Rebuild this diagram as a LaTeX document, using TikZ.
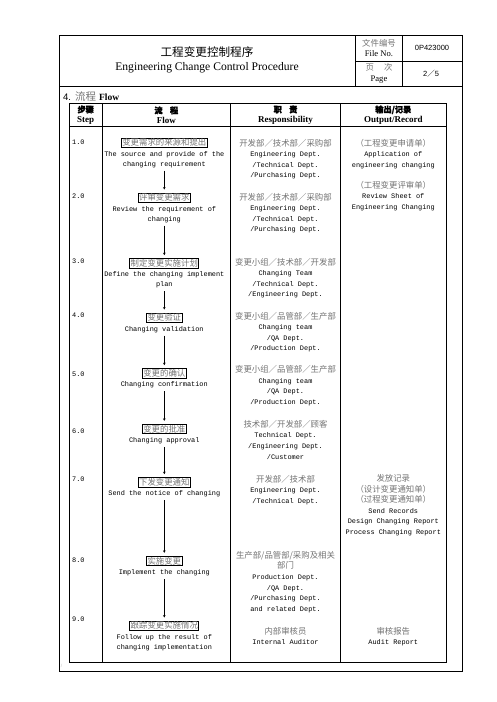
\documentclass[tikz,border=0pt]{standalone}
\usepackage{fontspec}
\setmainfont{Liberation Serif}
\setsansfont{Liberation Sans}
\setmonofont{Liberation Mono}
\newfontfamily\cjk{Noto Sans CJK SC}
\newfontfamily\cjkbold[FakeBold=2]{Noto Sans CJK SC}
\usepackage{tikz}
\usetikzlibrary{arrows.meta,positioning}
\usepackage{xcolor}
\definecolor{zhgray}{RGB}{115,115,115}
\newcommand{\zh}[1]{{\cjk\fontsize{8.4}{10.6}\selectfont\color{zhgray}#1}}
\tikzstyle{arrow} = [line width=0.9pt,-{Stealth[length=2.5pt,width=2.6pt]},shorten <=3pt,shorten >=3pt]
\tikzstyle{flowbox} = [rectangle, draw, line width=0.7pt, inner sep=0.9pt, font=\cjk\fontsize{8.4}{10}\selectfont, text=zhgray]
\tikzstyle{flowtext} = [align=center, inner sep=0pt, font=\ttfamily\fontsize{6.9}{10}\selectfont]
\tikzstyle{cell} = [align=center, inner sep=0pt, anchor=north, font=\ttfamily\fontsize{6.9}{10.6}\selectfont]
\tikzstyle{steplabel} = [anchor=west, inner sep=0pt, font=\ttfamily\fontsize{6.9}{8}\selectfont]
\tikzstyle{headcell} = [align=center, inner sep=0pt, font=\bfseries\fontsize{9}{10}\selectfont]
\begin{document}
\begin{tikzpicture}[x=1pt,y=-1pt]
\useasboundingbox (0,0) rectangle (496,702);
% Frame and title block
\draw[line width=1pt] (59,35) rectangle (462,671);
\draw[line width=0.9pt] (59,86) -- (462,86);
\draw[line width=0.9pt] (355.7,35) -- (355.7,86);
\draw[line width=0.9pt] (402.3,35) -- (402.3,86);
\draw[line width=0.9pt] (355.7,61.7) -- (462,61.7);
\node (title) [align=center, inner sep=0pt, font=\fontsize{11.6}{14.6}\selectfont] at (207,60) {{\cjk\fontsize{11.6}{14.6}\selectfont 工程变更控制程序}\\Engineering Change Control Procedure};
\node (fileno) [align=center, inner sep=0pt, font=\fontsize{8.6}{9.7}\selectfont] at (379,48) {{\cjk\fontsize{8.4}{9.7}\selectfont\color{zhgray}文件编号}\\File No.};
\node (page) [align=center, inner sep=0pt, font=\fontsize{8.6}{11}\selectfont] at (379,73.5) {{\cjk\fontsize{8.4}{11}\selectfont\color{zhgray}页\hspace{1.2em}次}\\Page};
\node (docno) [font=\sffamily\fontsize{7.5}{8}\selectfont] at (432,48) {0P423000};
\node (pageno) [font=\sffamily\fontsize{7.5}{8}\selectfont] at (431,73.5) {2{\cjk ／}5};
\node (section) [anchor=west, inner sep=0pt, font=\fontsize{9.5}{10}\selectfont] at (63,96) {{\sffamily 4.}\hspace{4pt}{\cjk\fontsize{10.5}{11}\selectfont\color{zhgray}流程}\hspace{3pt}\textbf{Flow}};

% Flow table
\draw[line width=0.8pt] (69,103.3) rectangle (446,662);
\draw[line width=0.8pt] (69,126) -- (446,126);
\draw[line width=0.8pt] (102.3,103.3) -- (102.3,662);
\draw[line width=0.8pt] (230.3,103.3) -- (230.3,662);
\draw[line width=0.8pt] (340.7,103.3) -- (340.7,662);
\node (hstep) [headcell] at (85.7,115) {{\cjkbold\fontsize{8.2}{10}\selectfont 步骤}\\Step};
\node (hflow) [headcell] at (166.3,115) {{\cjkbold\fontsize{8.2}{10}\selectfont 流\hspace{0.9em}程}\\Flow};
\node (hresp) [headcell] at (285.5,115) {{\cjkbold\fontsize{8.2}{10}\selectfont 职\hspace{0.9em}责}\\Responsibility};
\node (hrec) [headcell] at (393.3,115) {{\cjkbold\fontsize{8.2}{10}\selectfont 输出/记录}\\Output/Record};

% Step numbers
\node (s1) [steplabel] at (72,142.7) {1.0};
\node (s2) [steplabel] at (72,196.7) {2.0};
\node (s3) [steplabel] at (72,261.7) {3.0};
\node (s4) [steplabel] at (72,315) {4.0};
\node (s5) [steplabel] at (72,374.3) {5.0};
\node (s6) [steplabel] at (72,431.7) {6.0};
\node (s7) [steplabel] at (72,479.3) {7.0};
\node (s8) [steplabel] at (72,560.7) {8.0};
\node (s9) [steplabel] at (72,619) {9.0};

% Flow boxes
\node (source) [flowbox] at (164.3,142.7) {变更需求的来源和提出};
\node (source-en) [flowtext, below=3pt of source] {The source and provide of the\\changing requirement};
\node (review) [flowbox] at (164.3,197.7) {评审变更需求};
\node (review-en) [flowtext, below=3pt of review] {Review the requirement of\\changing};
\node (plan) [flowbox] at (164.3,263.3) {制定变更实施计划};
\node (plan-en) [flowtext, below=3pt of plan] {Define the changing implement\\plan};
\node (valid) [flowbox] at (164.3,317.7) {变更验证};
\node (valid-en) [flowtext, below=3pt of valid] {Changing validation};
\node (confirm) [flowbox] at (164.3,373.3) {变更的确认};
\node (confirm-en) [flowtext, below=3pt of confirm] {Changing confirmation};
\node (approve) [flowbox] at (164.3,429) {变更的批准};
\node (approve-en) [flowtext, below=3pt of approve] {Changing approval};
\node (notice) [flowbox] at (164.3,482.3) {下发变更通知};
\node (notice-en) [flowtext, below=3pt of notice] {Send the notice of changing};
\node (impl) [flowbox] at (164.3,561) {实施变更};
\node (impl-en) [flowtext, below=3pt of impl] {Implement the changing};
\node (follow) [flowbox] at (164.3,625.7) {跟踪变更实施情况};
\node (follow-en) [flowtext, below=3pt of follow] {Follow up the result of\\changing implementation};

\draw[arrow] (source-en) -- (review);
\draw[arrow] (review-en) -- (plan);
\draw[arrow] (plan-en) -- (valid);
\draw[arrow] (valid-en) -- (confirm);
\draw[arrow] (confirm-en) -- (approve);
\draw[arrow] (approve-en) -- (notice);
\draw[arrow] (notice-en) -- (impl);
\draw[arrow] (impl-en) -- (follow);

% Responsibility
\node (r1) [cell] at (285.5,138.7) {\zh{开发部／技术部／采购部}\\Engineering Dept.\\/Technical Dept.\\/Purchasing Dept.};
\node (r2) [cell] at (285.5,192.7) {\zh{开发部／技术部／采购部}\\Engineering Dept.\\/Technical Dept.\\/Purchasing Dept.};
\node (r3) [cell] at (285.5,257.7) {\zh{变更小组／技术部／开发部}\\Changing Team\\/Technical Dept.\\/Engineering Dept.};
\node (r4) [cell] at (285.5,311.7) {\zh{变更小组／品管部／生产部}\\Changing team\\/QA Dept.\\/Production Dept.};
\node (r5) [cell] at (285.5,365.3) {\zh{变更小组／品管部／生产部}\\Changing team\\/QA Dept.\\/Production Dept.};
\node (r6) [cell] at (285.5,420) {\zh{技术部／开发部／顾客}\\Technical Dept.\\/Engineering Dept.\\/Customer};
\node (r7) [cell] at (285.5,475) {\zh{开发部／技术部}\\Engineering Dept.\\/Technical Dept.};
\node (r8) [cell] at (285.5,551) {\zh{生产部/品管部/采购及相关}\\\zh{部门}\\Production Dept.\\/QA Dept.\\/Purchasing Dept.\\and related Dept.};
\node (r9) [cell] at (285.5,626.7) {\zh{内部审核员}\\Internal Auditor};

% Output / records
\node (o1) [cell] at (393.3,138.7) {\zh{（工程变更申请单）}\\Application of\\engineering changing};
\node (o2) [cell] at (393.3,181) {\zh{（工程变更评审单）}\\Review Sheet of\\Engineering Changing};
\node (o7) [cell] at (393.3,474.3) {\zh{发放记录}\\\zh{（设计变更通知单）}\\\zh{（过程变更通知单）}\\Send Records\\Design Changing Report\\Process Changing Report};
\node (o9) [cell] at (393.3,626.7) {\zh{审核报告}\\Audit Report};

\node (mark) [inner sep=0pt, font=\fontsize{5}{5}\selectfont, text=black!40] at (61.5,666) {/};
\end{tikzpicture}
\end{document}
